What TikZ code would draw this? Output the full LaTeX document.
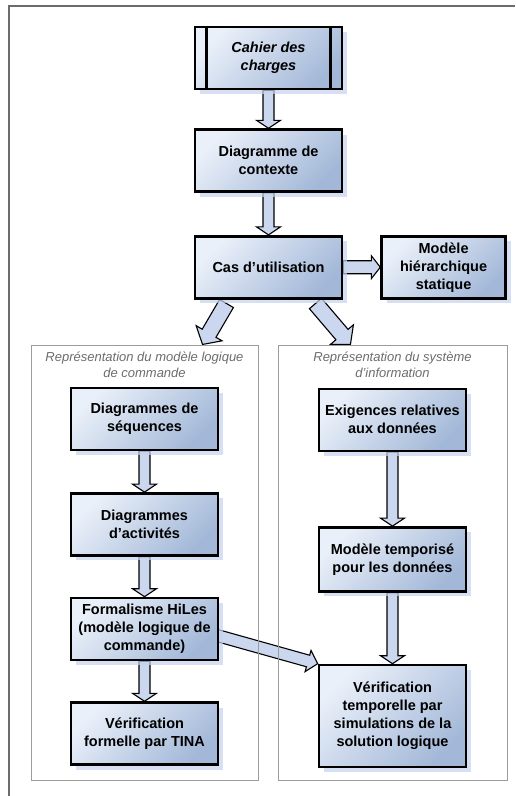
\documentclass[tikz,border=0pt]{standalone}
\usepackage{fontspec}
\setmainfont{Liberation Sans}
\usetikzlibrary{positioning,calc,shadows}

\definecolor{boxlight}{HTML}{EAF0F9}
\definecolor{boxdark}{HTML}{A3B8D8}
\definecolor{arrowfill}{HTML}{CAD7EE}
\definecolor{shadowblue}{HTML}{C6D3EE}
\definecolor{framegray}{HTML}{9C9C9C}
\definecolor{titlegray}{HTML}{6C6C6C}

\pgfdeclarelayer{bg}
\pgfsetlayers{bg,main}

% block arrow from #2 to #3
\newcommand{\fatarrow}[3][]{%
  \path[fatarrow,#1] let \p1=(#2), \p2=(#3),
    \n1={atan2(\y2-\y1,\x2-\x1)}, \n2={veclen(\x2-\x1,\y2-\y1)} in
    [shift={(\p1)}, rotate=\n1]
    (0pt,-\arrshaft) -- (\n2-\arrtip,-\arrshaft) -- (\n2-\arrtip,-\arrhead)
    -- (\n2,0pt) -- (\n2-\arrtip,\arrhead) -- (\n2-\arrtip,\arrshaft)
    -- (0pt,\arrshaft) -- cycle;
}

\begin{document}
\begin{tikzpicture}[
	x = 1pt, y = -1pt, % pixel grid, y going down
	arr shaft/.store in = \arrshaft,
	arr head/.store in = \arrhead,
	arr tip/.store in = \arrtip,
	arr shaft = 5.5pt, arr head = 12pt, arr tip = 8pt,
	fatarrow/.style={draw=black, line width=1.1pt, fill=arrowfill, line join=miter},
	wide/.style={arr shaft=8pt, arr head=15pt, arr tip=13pt},
	box/.style={draw=black, line width=2.6pt, top color=boxlight, bottom color=boxdark, shading angle=45,
		minimum width=147pt, minimum height=62pt, inner sep=2pt, align=center,
		font=\bfseries\fontsize{14.5}{18}\selectfont,
		drop shadow={shadow xshift=5pt, shadow yshift=-5pt, fill=shadowblue, opacity=.7}},
	cahier/.style={box, font=\bfseries\itshape\fontsize{14.5}{18}\selectfont},
	group/.style={draw=framegray, line width=1pt, minimum height=435pt, inner sep=0pt},
	grouptitle/.style={inner sep=2pt, align=center, text=titlegray, font=\itshape\fontsize{13}{16}\selectfont},
	]

	\useasboundingbox (0,0) rectangle (515,796);
	\draw[titlegray, line width=1.4pt] (515,6) -| (9,796);

	% Top chain
	\node[cahier] (cahier) at (268.5,58) {Cahier des\\charges};
	\draw[line width=2.6pt] ([xshift=13pt]cahier.north west) -- ([xshift=13pt]cahier.south west);
	\draw[line width=2.6pt] ([xshift=-13pt]cahier.north east) -- ([xshift=-13pt]cahier.south east);
	\node[box] (contexte) [below = 38pt of cahier] {Diagramme de\\contexte};
	\node[box] (cas) [below = 42pt of contexte] {Cas d’utilisation};
	\node[box, minimum width=124pt] (hier) [right = 37pt of cas] {Modèle\\hiérarchique\\statique};

	% Groups
	\node[group, minimum width=227pt] (leftbox) at (144.5,562.5) {};
	\node[group, minimum width=229pt] (rightbox) at (392.5,562.5) {};
	\node[grouptitle] (lefttitle) [below = 5pt of leftbox.north] {Représentation du modèle logique\\de commande};
	\node[grouptitle] (righttitle) [below = 5pt of rightbox.north] {Représentation du système\\d'information};
	\coordinate (cmdin) at ([xshift=58pt]leftbox.north);
	\coordinate (infoin) at ([xshift=-42pt]rightbox.north);

	% Left column
	\node[box] (seq) [below = 42pt of leftbox.north] {Diagrammes de\\séquences};
	\node[box] (act) [below = 41pt of seq] {Diagrammes\\d’activités};
	\node[box] (hiles) [below = 40pt of act] {Formalisme HiLes\\(modèle logique de\\commande)};
	\node[box] (tina) [below = 40pt of hiles] {Vérification\\formelle par TINA};

	% Right column
	\node[box] (exig) [below = 43pt of rightbox.north] {Exigences relatives\\aux données};
	\node[box, minimum height=64pt] (temp) [below = 74pt of exig] {Modèle temporisé\\pour les données};
	\node[box, minimum height=102pt] (verif) [below = 71pt of temp] {Vérification\\temporelle par\\simulations de la\\solution logique};

	% Block arrows
	\begin{pgfonlayer}{bg}
	\fatarrow{cahier.south}{contexte.north}
	\fatarrow{contexte.south}{cas.north}
	\fatarrow[arr shaft=6.5pt, arr head=11.5pt, arr tip=9pt]{cas.east}{hier.west}
	\fatarrow[wide]{[xshift=-42pt, yshift=-4pt]cas.south}{cmdin}
	\fatarrow[wide]{[xshift=47pt, yshift=-4pt]cas.south}{infoin}
	\fatarrow{seq.south}{act.north}
	\fatarrow{act.south}{hiles.north}
	\fatarrow{hiles.south}{tina.north}
	\fatarrow{exig.south}{temp.north}
	\fatarrow{temp.south}{verif.north}
	\fatarrow[arr shaft=6pt, arr head=11pt, arr tip=10pt]{[xshift=-4pt, yshift=-6pt]hiles.east}{verif.north west}
	\end{pgfonlayer}

\end{tikzpicture}
\end{document}
